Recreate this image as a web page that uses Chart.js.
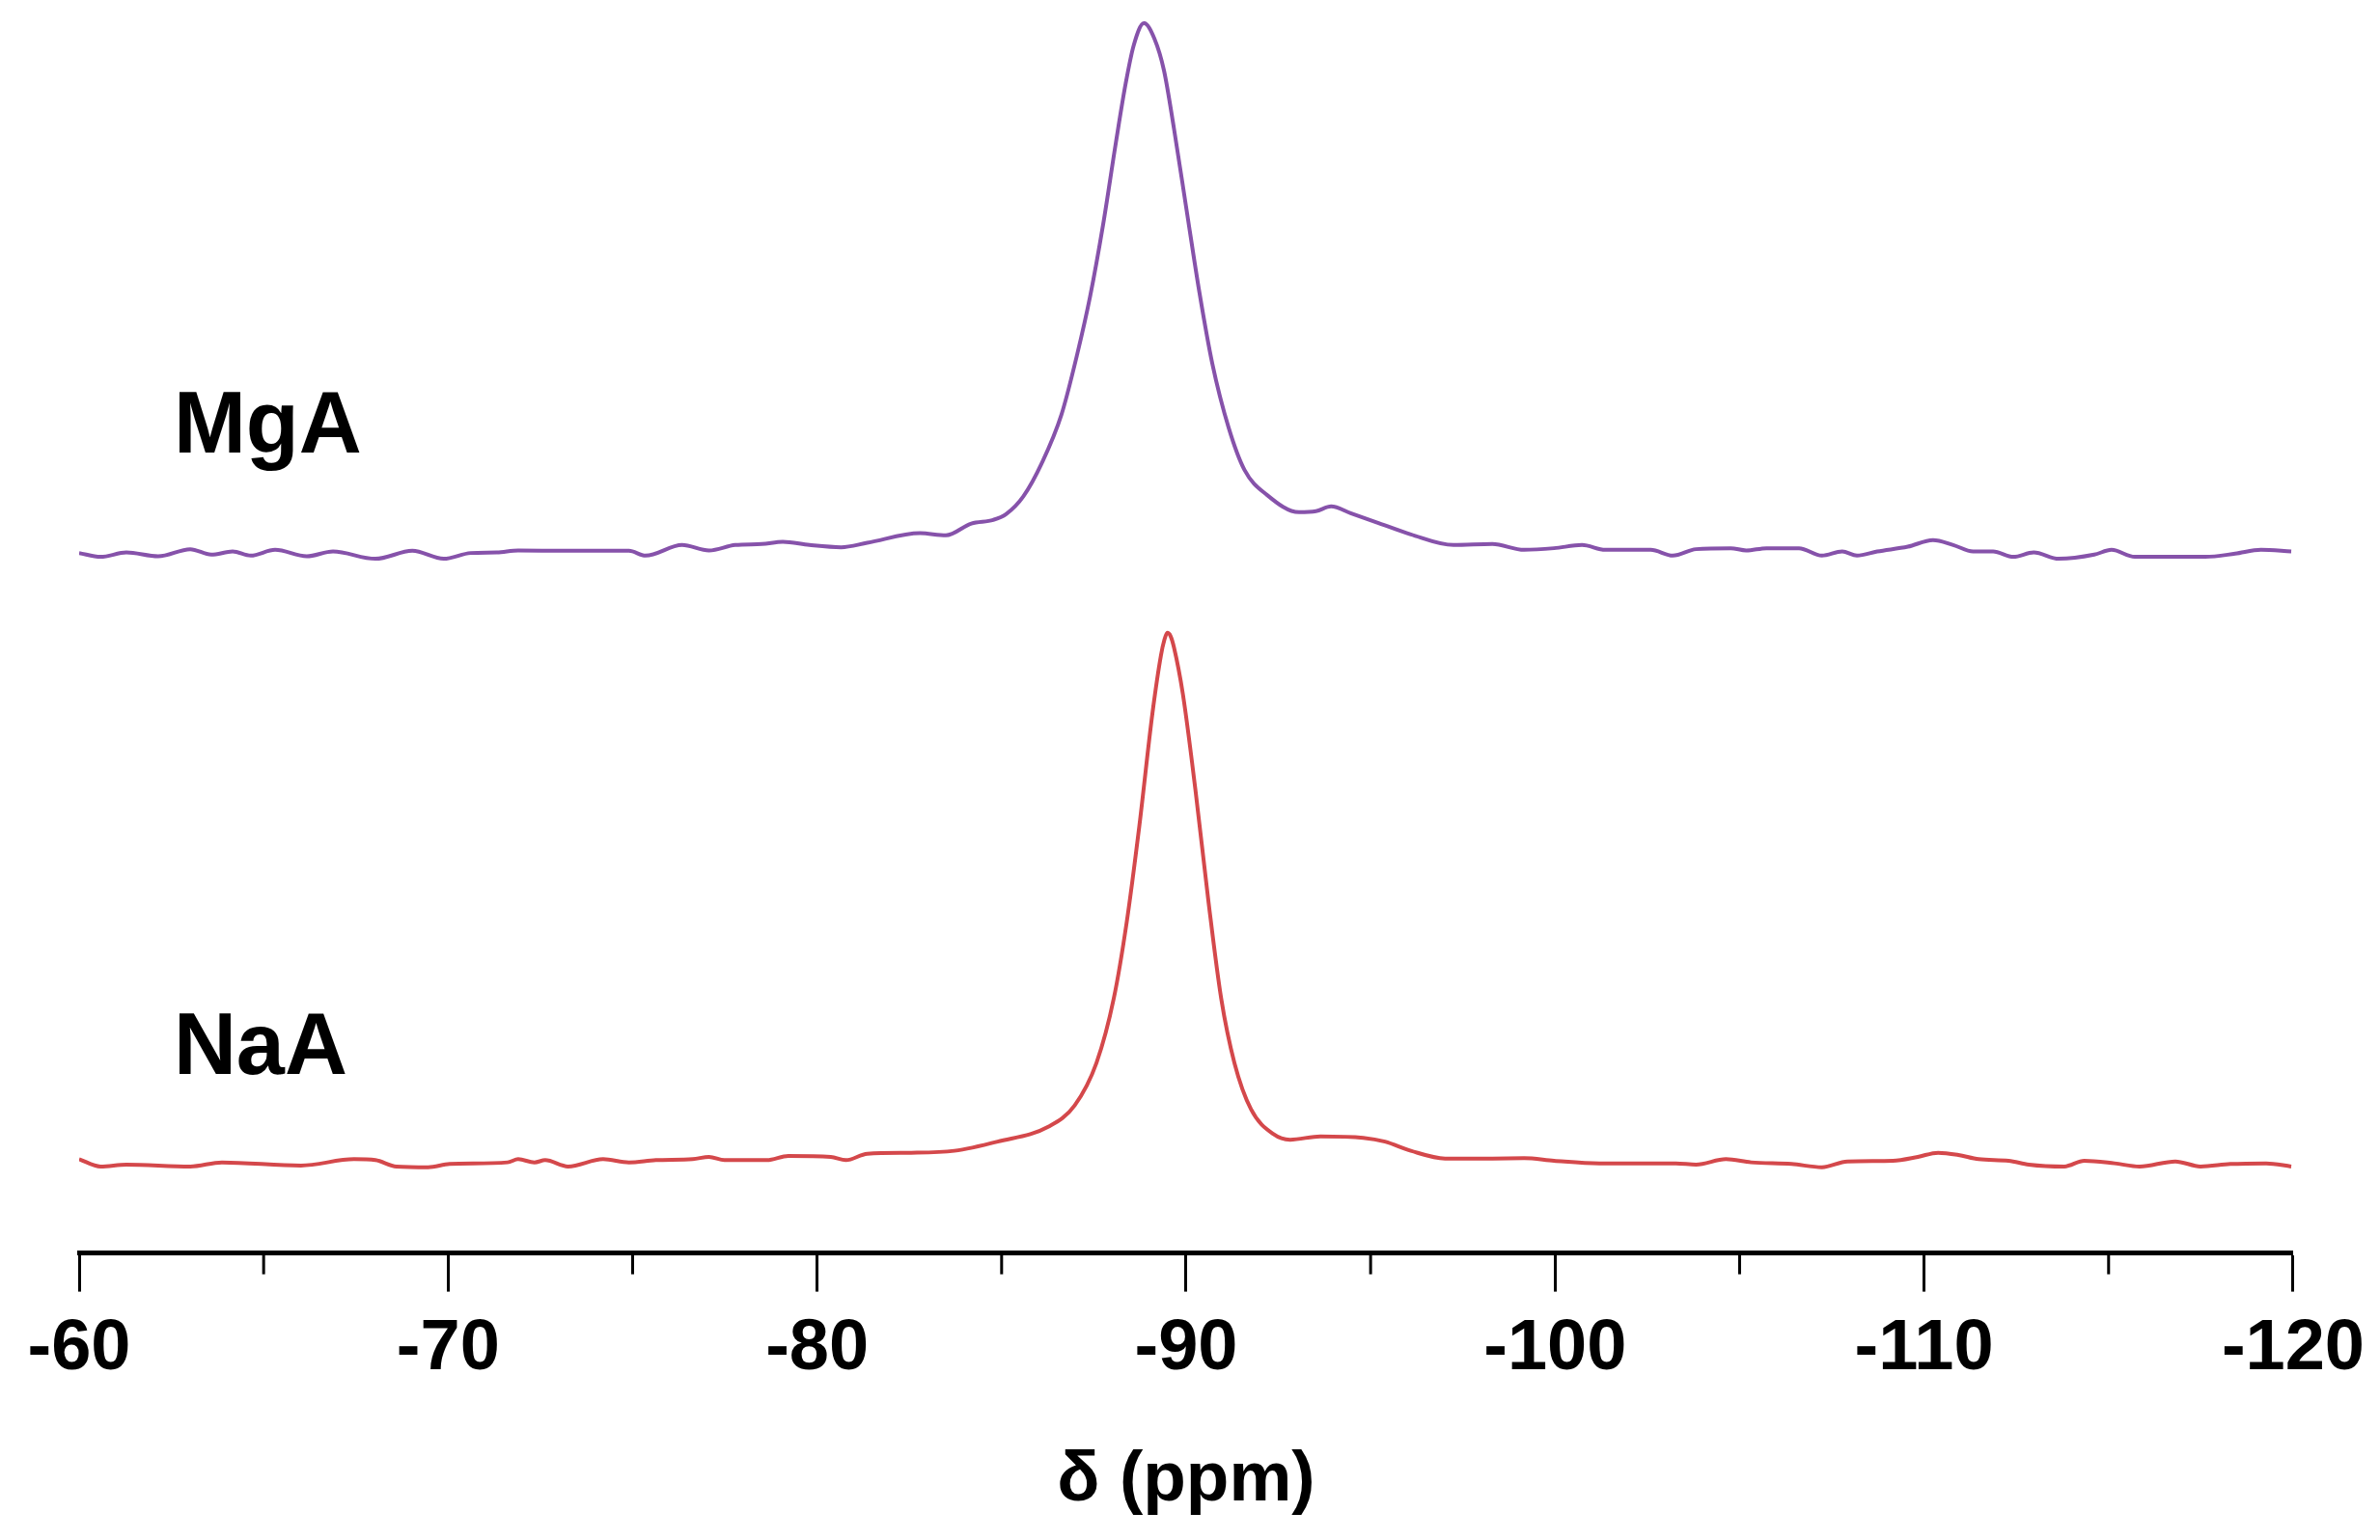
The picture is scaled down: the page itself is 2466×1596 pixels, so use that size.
<!DOCTYPE html>
<html>
<head>
<meta charset="utf-8">
<script src="https://cdn.jsdelivr.net/npm/chart.js@4.4.1/dist/chart.umd.min.js"></script>
<style>
  html, body { margin: 0; padding: 0; background: #ffffff; }
  #wrap { width: 2466px; height: 1596px; position: relative; }
</style>
</head>
<body>
<div id="wrap"><canvas id="c"></canvas></div>
<script>
// Chemical shift (ppm) and intensity (arbitrary units, stacked display offset included)
const mgaShift = [-60.00,-60.58,-61.28,-62.14,-63.01,-63.58,-64.16,-64.65,-65.31,-66.17,-66.88,-68.03,-69.03,-69.88,-70.61,-71.32,-71.90,-73.19,-74.90,-75.35,-76.34,-77.07,-77.78,-78.50,-79.07,-79.79,-80.65,-81.36,-82.79,-83.49,-84.18,-84.77,-85.12,-85.59,-86.09,-86.62,-87.05,-87.40,-87.75,-88.10,-88.36,-88.58,-88.86,-89.14,-89.40,-89.67,-90.01,-90.36,-90.71,-91.15,-91.58,-92.19,-93.06,-93.52,-93.93,-94.46,-95.16,-96.09,-97.25,-98.30,-99.16,-99.97,-100.73,-101.36,-102.59,-103.19,-103.82,-104.76,-105.18,-105.73,-106.61,-107.23,-107.78,-108.18,-108.73,-109.56,-110.24,-110.79,-111.33,-111.87,-112.42,-112.97,-113.65,-114.61,-115.08,-115.71,-117.62,-118.43,-119.13,-119.95];
const mgaIntensity = [72.57,72.17,72.63,72.23,72.97,72.40,72.73,72.30,72.90,72.23,72.73,71.97,72.80,71.97,72.57,72.63,72.83,72.80,72.80,72.30,73.40,72.83,73.40,73.50,73.73,73.40,73.17,73.63,74.63,74.40,75.63,76.00,76.60,78.45,81.90,86.90,93.20,99.20,106.60,115.20,121.20,125.20,127.50,125.90,122.60,116.60,108.20,99.60,92.20,85.60,81.20,78.60,76.80,76.90,77.40,76.70,75.75,74.50,73.40,73.50,72.90,73.07,73.40,72.90,72.90,72.30,72.97,73.07,72.83,73.07,73.07,72.30,72.73,72.30,72.73,73.23,73.90,73.40,72.73,72.73,72.17,72.63,71.97,72.40,72.90,72.17,72.17,72.50,72.90,72.73];

const naaShift = [-60.00,-60.58,-61.28,-63.01,-63.87,-66.01,-67.45,-68.03,-68.60,-69.46,-70.04,-71.61,-71.90,-72.34,-72.63,-73.25,-74.20,-74.90,-75.63,-76.63,-77.07,-77.49,-78.64,-79.22,-80.37,-80.78,-81.36,-82.55,-83.72,-84.89,-86.29,-86.98,-87.57,-88.04,-88.39,-88.73,-89.09,-89.32,-89.41,-89.49,-89.58,-89.67,-89.91,-90.25,-90.61,-90.95,-91.31,-91.76,-92.36,-92.82,-93.64,-94.80,-95.39,-96.09,-97.02,-98.30,-99.16,-99.97,-101.20,-103.27,-103.82,-104.63,-105.31,-106.41,-107.23,-107.92,-109.15,-109.83,-110.38,-110.93,-111.48,-112.29,-112.84,-113.80,-114.34,-115.16,-115.84,-116.81,-117.49,-118.30,-119.27,-119.95];
const naaIntensity = [9.73,8.97,9.17,8.97,9.40,9.07,9.73,9.63,8.97,8.90,9.23,9.40,9.73,9.40,9.63,8.97,9.73,9.40,9.63,9.73,9.97,9.63,9.63,10.07,9.97,9.63,10.30,10.40,10.60,11.55,13.14,15.30,19.70,26.40,34.30,44.20,56.04,62.00,63.55,64.30,63.95,62.80,58.00,48.10,36.30,26.40,19.70,14.90,12.35,11.75,12.10,11.95,11.55,10.60,9.80,9.80,9.83,9.57,9.30,9.30,9.17,9.73,9.40,9.23,8.90,9.50,9.57,9.97,10.40,10.17,9.73,9.57,9.17,8.97,9.57,9.30,8.97,9.50,8.97,9.23,9.30,8.97];

const seriesNames = ['MgA', 'NaA'];
const seriesLabelAt = [[-62.56, 83.0], [-62.56, 18.6]]; // [shift, intensity] anchor of each sample label
const xTicksMajor = [-60, -70, -80, -90, -100, -110, -120];
const xTitle = 'δ (ppm)';

const toPoints = (xs, ys) => xs.map((x, i) => ({ x: x, y: ys[i] }));

const sampleLabels = {
  id: 'sampleLabels',
  afterDatasetsDraw(chart) {
    const ctx = chart.ctx;
    const xs = chart.scales.x, ys = chart.scales.y;
    ctx.save();
    ctx.fillStyle = '#000000';
    ctx.font = 'bold 90px "Liberation Sans", Arial, sans-serif';
    ctx.textAlign = 'left';
    ctx.textBaseline = 'alphabetic';
    seriesNames.forEach((name, i) => {
      ctx.fillText(name, xs.getPixelForValue(seriesLabelAt[i][0]), ys.getPixelForValue(seriesLabelAt[i][1]));
    });
    ctx.restore();
  }
};

const minorTicks = {
  id: 'minorTicks',
  afterDraw(chart) {
    const ctx = chart.ctx;
    const xs = chart.scales.x;
    ctx.save();
    ctx.strokeStyle = '#000000';
    ctx.lineWidth = 3;
    xs.ticks.forEach(t => {
      if (Math.abs(t.value % 10) > 0.001) {
        const px = xs.getPixelForValue(t.value);
        ctx.beginPath();
        ctx.moveTo(px, xs.top);
        ctx.lineTo(px, xs.top + 22);
        ctx.stroke();
      }
    });
    ctx.restore();
  }
};

new Chart(document.getElementById('c'), {
  type: 'line',
  data: {
    datasets: [
      {
        label: seriesNames[0],
        data: toPoints(mgaShift, mgaIntensity),
        borderColor: '#8652aa',
        borderWidth: 4,
        pointRadius: 0,
        cubicInterpolationMode: 'monotone',
        fill: false
      },
      {
        label: seriesNames[1],
        data: toPoints(naaShift, naaIntensity),
        borderColor: '#d4484b',
        borderWidth: 4,
        pointRadius: 0,
        cubicInterpolationMode: 'monotone',
        fill: false
      }
    ]
  },
  options: {
    responsive: true,
    maintainAspectRatio: false,
    animation: false,
    devicePixelRatio: 1,
    layout: { padding: { left: 82, right: 89, top: 10, bottom: 12 } },
    plugins: {
      legend: { display: false },
      tooltip: { enabled: false }
    },
    scales: {
      x: {
        type: 'linear',
        reverse: true,
        min: -120,
        max: -60,
        border: { display: true, color: '#000000', width: 5 },
        grid: {
          drawOnChartArea: false,
          drawTicks: true,
          tickLength: 40,
          tickWidth: 3,
          tickColor: ctx => (ctx.tick && xTicksMajor.includes(ctx.tick.value)) ? '#000000' : 'rgba(0,0,0,0)'
        },
        ticks: {
          stepSize: 5,
          autoSkip: false,
          maxRotation: 0,
          padding: 16,
          color: '#000000',
          font: { family: '"Liberation Sans", Arial, sans-serif', size: 74, weight: 'bold' },
          callback: v => xTicksMajor.includes(v) ? String(v) : ''
        },
        title: {
          display: true,
          text: xTitle,
          color: '#000000',
          padding: { top: 32, bottom: 5 },
          font: { family: '"Liberation Sans", Arial, sans-serif', size: 73, weight: 'bold' }
        }
      },
      y: {
        display: false,
        min: 0,
        max: 128.9
      }
    }
  },
  plugins: [sampleLabels, minorTicks]
});
</script>
</body>
</html>
